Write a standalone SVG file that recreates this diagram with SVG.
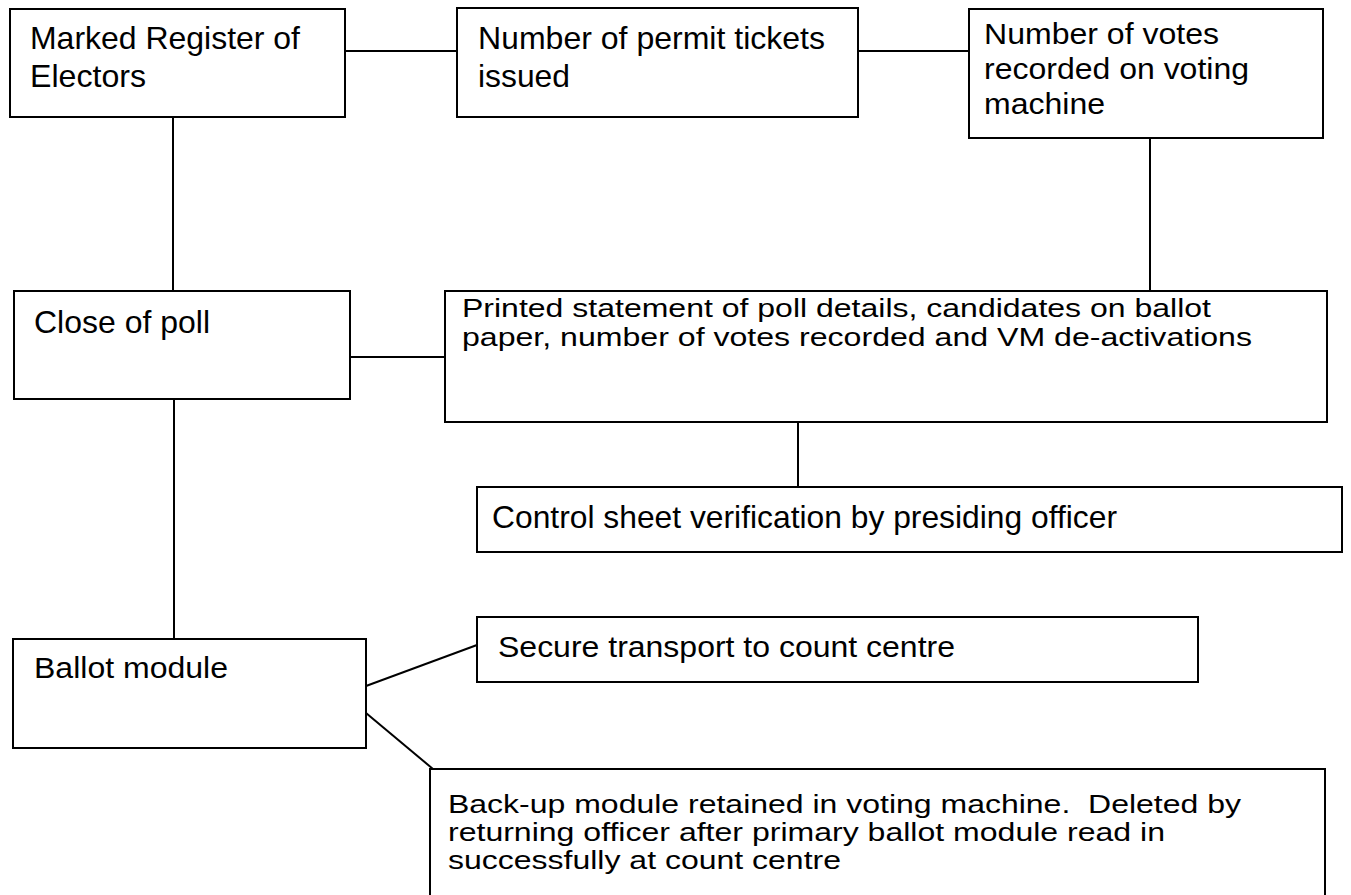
<svg xmlns="http://www.w3.org/2000/svg" width="1351" height="895" viewBox="0 0 1351 895">
<style>
.box{fill:#fff;stroke:#000;stroke-width:2}
.c{stroke:#000;stroke-width:2;fill:none}
text{font-family:"Liberation Sans",Arial,sans-serif;fill:#000;white-space:pre}
.f32{font-size:32px}
.f30{font-size:30px}
.f26{font-size:26px}
.f25{font-size:25px}
</style>
<rect width="1351" height="895" fill="#fff"/>
<g id="connectors">
<line class="c" x1="345" y1="51" x2="457" y2="51"/>
<line class="c" x1="858" y1="51" x2="969" y2="51"/>
<line class="c" x1="173" y1="117" x2="173" y2="291"/>
<line class="c" x1="1150" y1="138" x2="1150" y2="291"/>
<line class="c" x1="350" y1="357" x2="445" y2="357"/>
<line class="c" x1="798" y1="422" x2="798" y2="487"/>
<line class="c" x1="174" y1="399" x2="174" y2="639"/>
<line class="c" x1="366" y1="686" x2="477" y2="645"/>
<line class="c" x1="366" y1="713" x2="433" y2="769"/>
</g>
<g id="marked-register">
<rect class="box" x="10" y="9" width="335" height="108"/>
<text class="f32" x="30" y="49" textLength="270" lengthAdjust="spacingAndGlyphs">Marked Register of</text>
<text class="f32" x="30" y="87" textLength="116" lengthAdjust="spacingAndGlyphs">Electors</text>
</g>
<g id="permit-tickets">
<rect class="box" x="457" y="8" width="401" height="109"/>
<text class="f32" x="478" y="49" textLength="347" lengthAdjust="spacingAndGlyphs">Number of permit tickets</text>
<text class="f32" x="478" y="87" textLength="92" lengthAdjust="spacingAndGlyphs">issued</text>
</g>
<g id="votes-recorded">
<rect class="box" x="969" y="9" width="354" height="129"/>
<text class="f30" x="984" y="44" textLength="235" lengthAdjust="spacingAndGlyphs">Number of votes</text>
<text class="f30" x="984" y="79" textLength="265" lengthAdjust="spacingAndGlyphs">recorded on voting</text>
<text class="f30" x="984" y="114" textLength="121" lengthAdjust="spacingAndGlyphs">machine</text>
</g>
<g id="close-of-poll">
<rect class="box" x="14" y="291" width="336" height="108"/>
<text class="f32" x="34" y="333" textLength="176" lengthAdjust="spacingAndGlyphs">Close of poll</text>
</g>
<g id="printed-statement">
<rect class="box" x="445" y="291" width="882" height="131"/>
<text class="f26" x="462" y="317" textLength="749" lengthAdjust="spacingAndGlyphs">Printed statement of poll details, candidates on ballot</text>
<text class="f26" x="462" y="346" textLength="790" lengthAdjust="spacingAndGlyphs">paper, number of votes recorded and VM de-activations</text>
</g>
<g id="control-sheet">
<rect class="box" x="477" y="487" width="865" height="65"/>
<text class="f32" x="492" y="528" textLength="625" lengthAdjust="spacingAndGlyphs">Control sheet verification by presiding officer</text>
</g>
<g id="ballot-module">
<rect class="box" x="13" y="639" width="353" height="109"/>
<text class="f30" x="34" y="678" textLength="194" lengthAdjust="spacingAndGlyphs">Ballot module</text>
</g>
<g id="secure-transport">
<rect class="box" x="477" y="617" width="721" height="65"/>
<text class="f30" x="498" y="657" textLength="457" lengthAdjust="spacingAndGlyphs">Secure transport to count centre</text>
</g>
<g id="backup-module">
<rect class="box" x="430" y="769" width="895" height="140"/>
<text class="f25" x="448" y="813" textLength="793" lengthAdjust="spacingAndGlyphs">Back-up module retained in voting machine.  Deleted by</text>
<text class="f25" x="448" y="841" textLength="717" lengthAdjust="spacingAndGlyphs">returning officer after primary ballot module read in</text>
<text class="f25" x="448" y="869" textLength="393" lengthAdjust="spacingAndGlyphs">successfully at count centre</text>
</g>
</svg>
